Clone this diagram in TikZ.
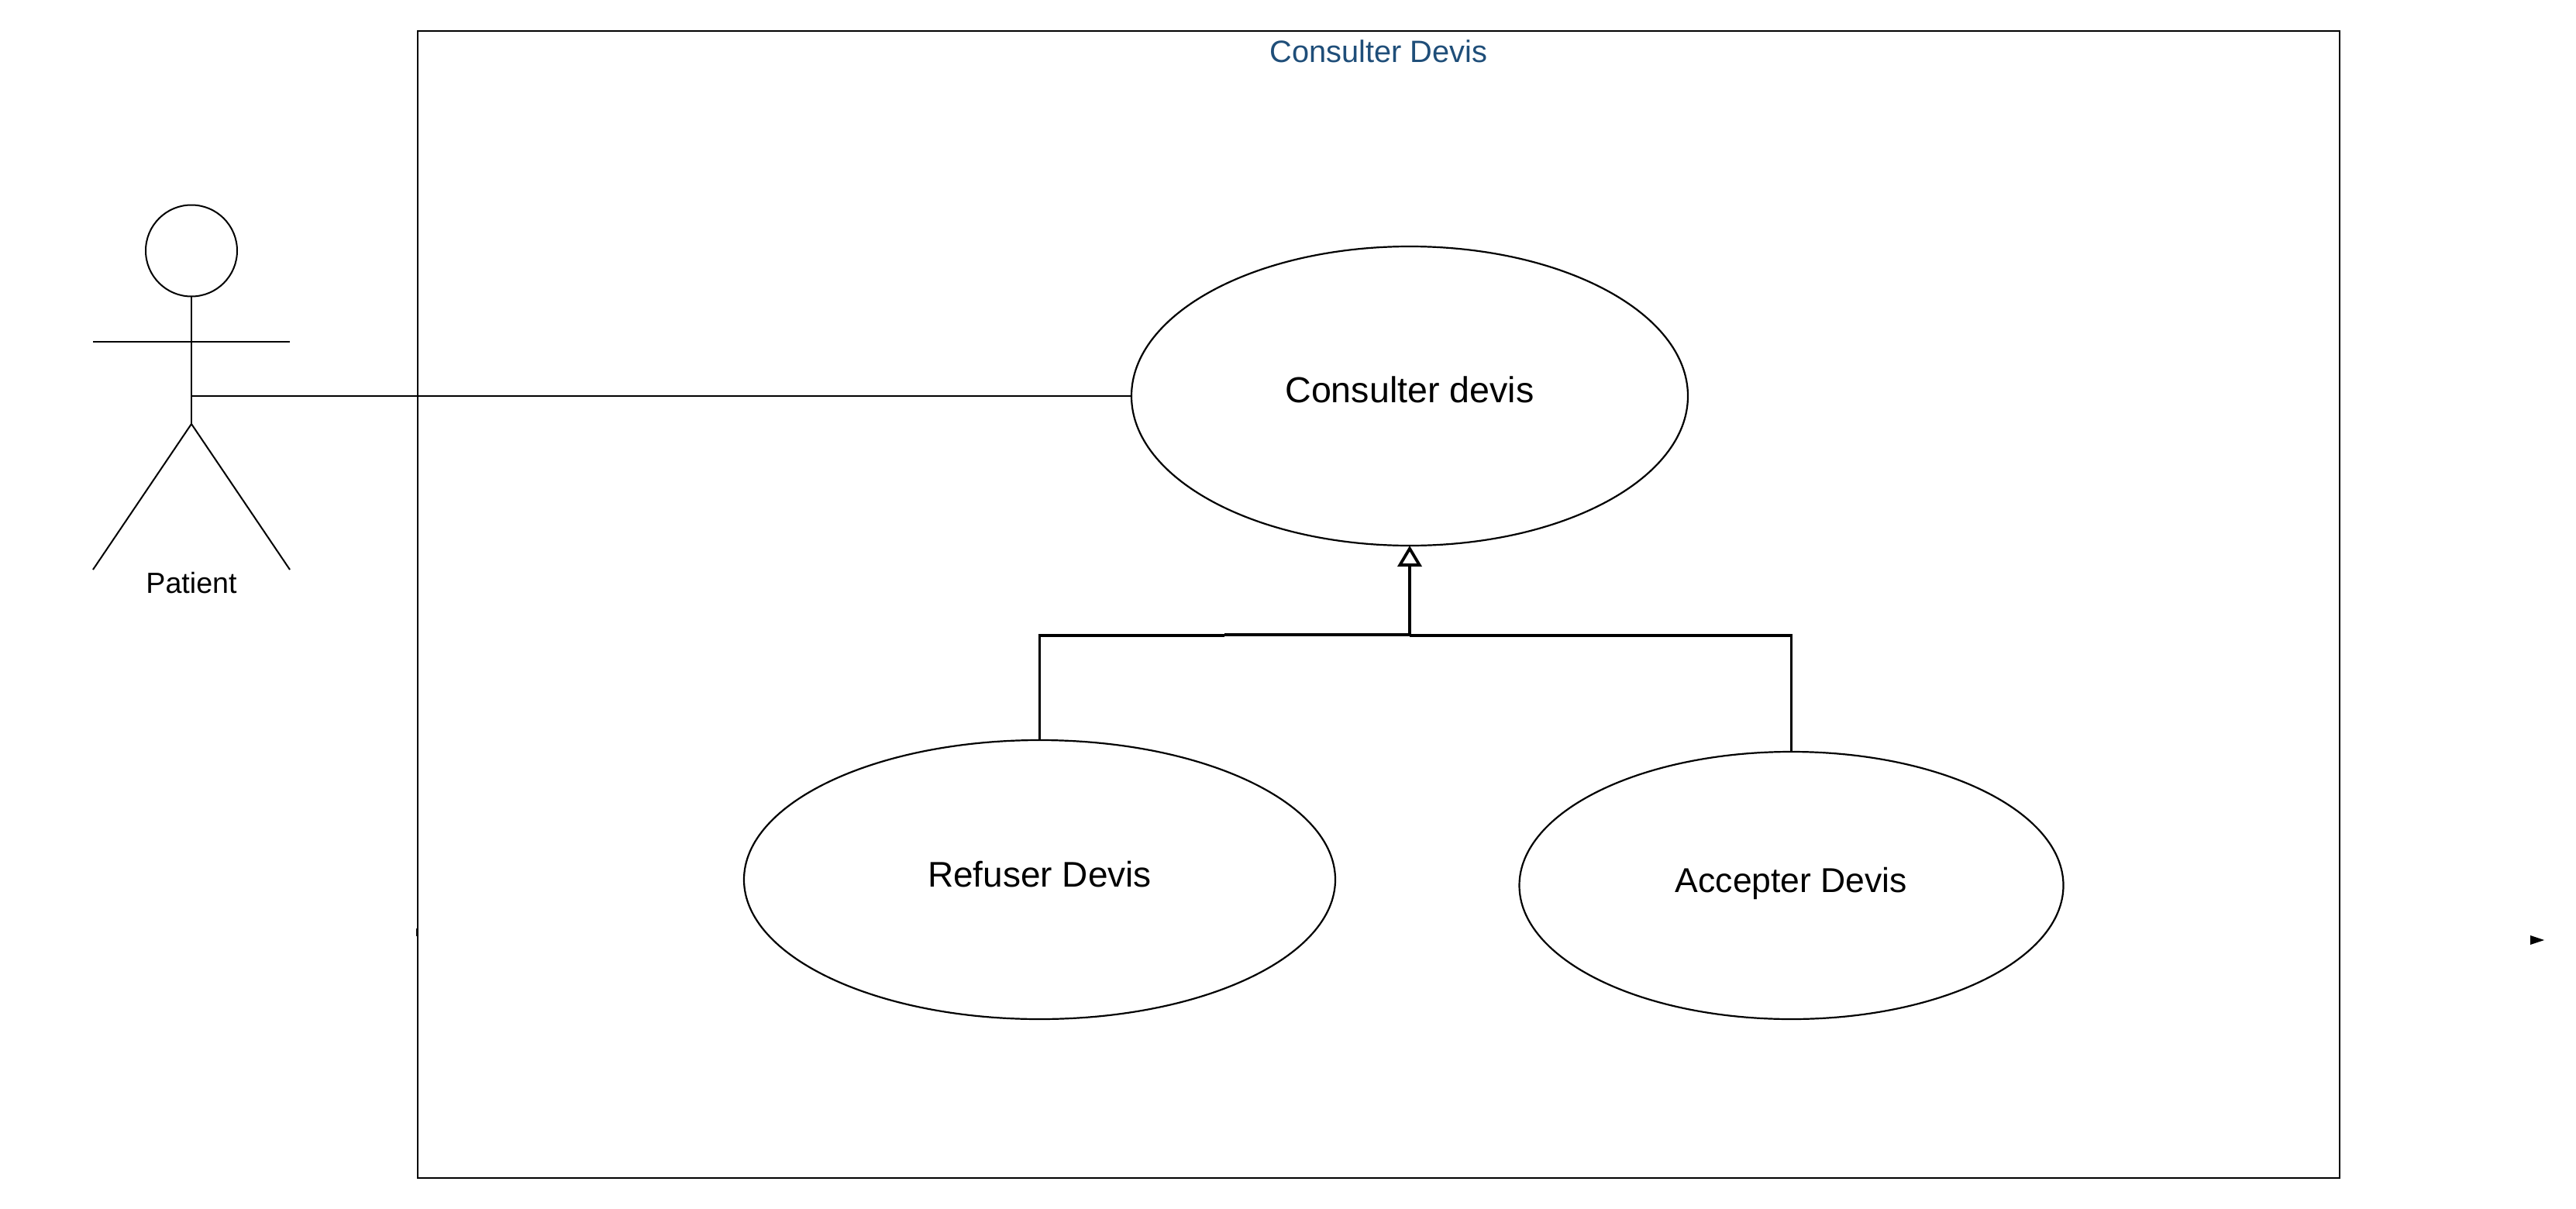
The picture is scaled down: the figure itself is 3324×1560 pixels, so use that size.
\documentclass[tikz,border=0pt]{standalone}
\usepackage{fontspec}
\setmainfont{Liberation Sans}
\usetikzlibrary{shapes.geometric,arrows.meta,calc}
\definecolor{titleblue}{HTML}{1F4E79}
\tikzset{
  thin line/.style={line width=2pt,black},
  gen line/.style={line width=3.6pt,black},
  bar line/.style={line width=4.4pt,black},
  usecase/.style={shape=ellipse,draw,line width=2.2pt,inner sep=0pt,outer sep=0pt,align=center},
  label text/.style={inner sep=0pt,outer sep=0pt,anchor=center},
}
\begin{document}
\begin{tikzpicture}[x=1pt,y=-1pt]
\useasboundingbox (0,0) rectangle (3324,1560);
\fill[white] (0,0) rectangle (3324,1560);
% system frame
\node[draw,thin line,minimum width=2480pt,minimum height=1480pt,inner sep=0pt,outer sep=0pt] (frame) at (1779,780) {};
\node[label text,text=titleblue,font=\fontsize{39.8}{48}\selectfont] (title) at (1779,66) {Consulter Devis};
% use cases
\node[usecase,minimum width=718pt,minimum height=386pt] (cons) at (1819,511) {};
\node[label text,font=\fontsize{46.6}{54}\selectfont] (constext) at (1819,503) {Consulter devis};
\node[usecase,minimum width=763pt,minimum height=360pt] (ref) at (1341.5,1135) {};
\node[label text,font=\fontsize{46}{54}\selectfont] (reftext) at (1341.5,1128) {Refuser Devis};
\node[usecase,minimum width=702pt,minimum height=345pt] (acc) at (2311.5,1142.5) {};
\node[label text,font=\fontsize{44.5}{54}\selectfont] (acctext) at (2311.5,1140) {Accepter Devis};
% actor
\node[draw,thin line,shape=circle,minimum size=118pt,inner sep=0pt,outer sep=0pt] (head) at (247,323.5) {};
\coordinate (hip) at (247,547);
\coordinate (waist) at (hip |- cons.west);
\coordinate (armL) at (120,441);
\coordinate (armR) at (374,441);
\coordinate (footL) at (120,735);
\coordinate (footR) at (374,735);
\draw[thin line] (head.south) -- (hip);
\draw[thin line] (armL) -- (armR);
\draw[thin line] (footL) -- (hip) -- (footR);
\node[label text,font=\fontsize{37.6}{44}\selectfont] (patient) at (247,752) {Patient};
% association
\draw[thin line] (waist) -- (cons.west);
% generalisation
\coordinate (barmid) at (1819,819);
\coordinate (barstep) at (1580,819);
\draw[gen line,-{Triangle[open,fill=white,length=27pt,width=31pt,line width=3.8pt]}] (barmid) -- (cons.south);
\draw[bar line] (barstep) -- (barmid);
\draw[gen line] (ref.north) -- (ref.north |- 820,820);
\draw[gen line] (acc.north) -- (acc.north |- 820,820);
\draw[bar line] ($(ref.north |- 820,820)+(-1.8,0)$) -- (1580,820);
\draw[bar line] (1819,820) -- ($(acc.north |- 820,820)+(1.8,0)$);
% stray marks
\fill[black] (537,1198) rectangle (540,1208);
\fill[black] (3265,1207) -- (3283,1213) -- (3265,1219) -- cycle;
\end{tikzpicture}
\end{document}
